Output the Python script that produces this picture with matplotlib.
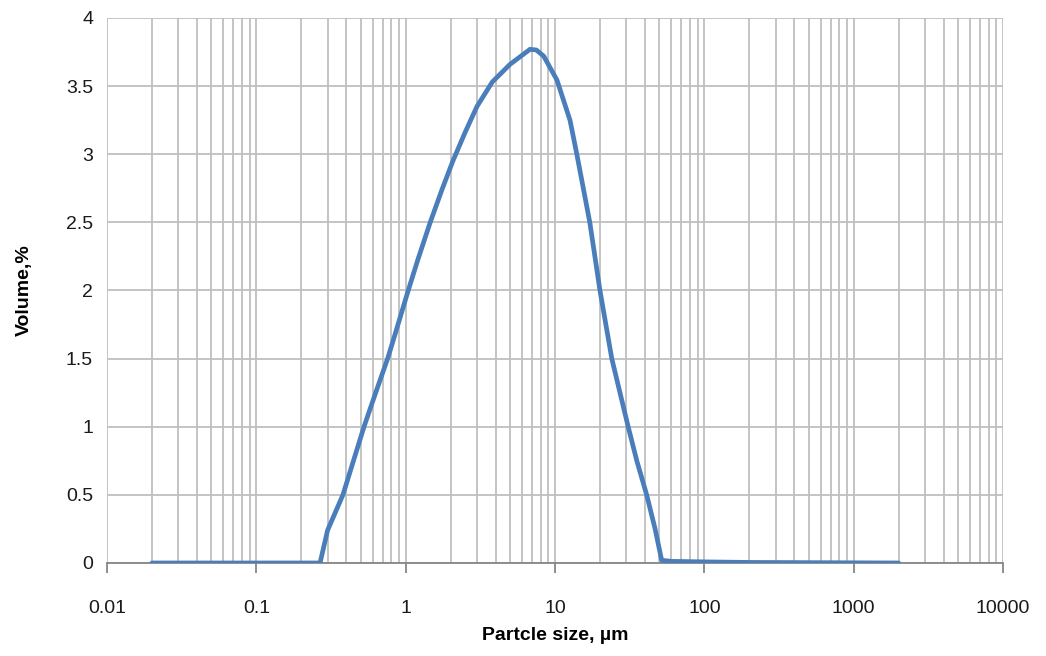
import matplotlib
matplotlib.use("Agg")
import matplotlib.pyplot as plt
from matplotlib.ticker import LogLocator, FixedLocator, FuncFormatter, NullFormatter

# particle size distribution
size_um = [0.02, 0.267, 0.30, 0.38, 0.526, 0.63, 0.757, 0.85, 1.04, 1.21, 1.46,
           1.75, 2.07, 2.5, 3.0, 3.8, 5.0, 6.8, 7.5, 8.4, 10.3, 12.6, 14.0, 17.1,
           20.0, 24.0, 30.9, 35.3, 41.1, 46.8, 51.8, 60.0, 100.0, 200.0, 2000.0]
volume_pct = [0.0, 0.0, 0.24, 0.50, 1.00, 1.25, 1.50, 1.68, 2.00, 2.23, 2.50,
              2.74, 2.95, 3.16, 3.35, 3.53, 3.66, 3.77, 3.765, 3.72, 3.545, 3.25,
              3.00, 2.50, 2.00, 1.50, 1.00, 0.75, 0.50, 0.25, 0.02, 0.012, 0.008,
              0.004, 0.0]

x_ticks = [0.01, 0.1, 1, 10, 100, 1000, 10000]
y_ticks = [0, 0.5, 1, 1.5, 2, 2.5, 3, 3.5, 4]

plt.rcParams["font.family"] = ["Liberation Sans", "DejaVu Sans"]

fig = plt.figure(figsize=(10.46, 6.56), dpi=100)
ax = fig.add_axes([0.1023, 0.1418, 0.8566, 0.8308])

ax.plot(size_um, volume_pct, color="#4a7ebb", linewidth=3.4, solid_capstyle="round",
        solid_joinstyle="round", zorder=3)

ax.set_xscale("log")
ax.set_xlim(0.01, 10000)
ax.set_ylim(0, 4)

ax.xaxis.set_major_locator(FixedLocator(x_ticks))
ax.xaxis.set_minor_locator(LogLocator(base=10, subs=range(2, 10), numticks=20))
ax.xaxis.set_major_formatter(FuncFormatter(lambda v, p: f"{v:g}"))
ax.xaxis.set_minor_formatter(NullFormatter())
ax.yaxis.set_major_locator(FixedLocator(y_ticks))
ax.yaxis.set_major_formatter(FuncFormatter(lambda v, p: f"{v:g}"))

ax.grid(True, which="both", axis="x", color="#bfbfbf", linewidth=1.3)
ax.grid(True, which="major", axis="y", color="#bfbfbf", linewidth=1.3)

for side in ["left", "top", "right"]:
    ax.spines[side].set_visible(False)
ax.spines["bottom"].set_color("#868686")
ax.spines["bottom"].set_linewidth(1.3)

ax.tick_params(axis="x", which="major", direction="out", length=7, width=1.3,
               color="#868686", pad=20, labelsize=14, labelcolor="#1a1a1a")
ax.tick_params(axis="x", which="minor", length=0)
ax.tick_params(axis="y", which="major", length=0, pad=10, labelsize=14,
               labelcolor="#1a1a1a")

ax.set_xlabel("Partcle size, µm", fontsize=14, fontweight="bold", labelpad=7)
ax.set_ylabel("Volume,%", fontsize=14, fontweight="bold", labelpad=24)

fig.savefig("out.png", dpi=100, facecolor="white")
